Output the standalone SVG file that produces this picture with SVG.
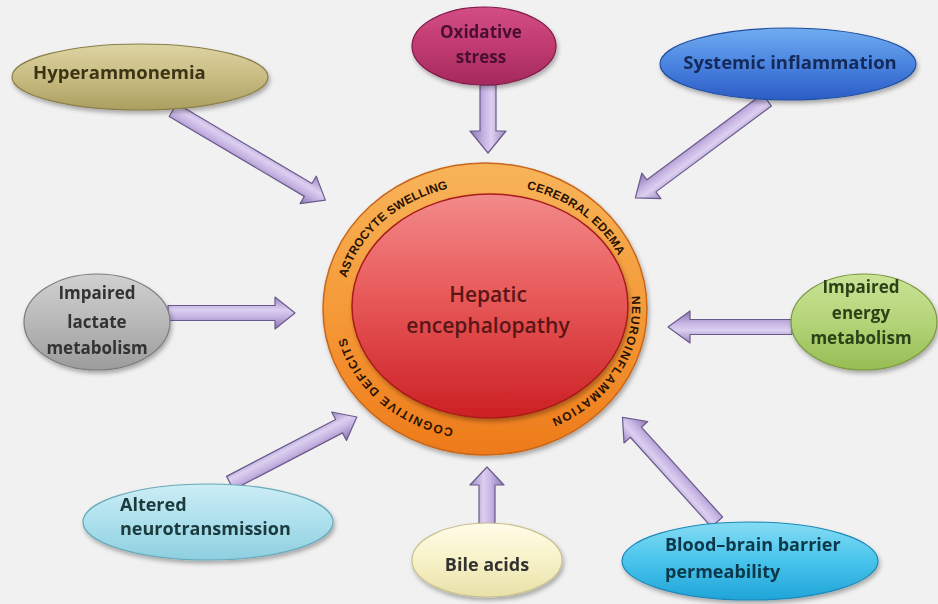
<svg xmlns="http://www.w3.org/2000/svg" width="938" height="604" viewBox="0 0 938 604">
<defs>
<style>
.lbl{font-family:"Open Sans","Liberation Sans",sans-serif;font-weight:700;font-size:18px;text-anchor:middle}
.ring{font-family:"Liberation Sans",Arial,sans-serif;font-weight:bold;font-size:12px;fill:#2a1200;text-anchor:middle;dominant-baseline:central}
.arrow{fill:url(#gArrow);stroke:#6a5a8c;stroke-width:1.2;stroke-linejoin:round}
.node{filter:url(#shadow)}
</style>
<filter id="shadow" x="-20%" y="-20%" width="140%" height="150%">
<feDropShadow dx="1.5" dy="3" stdDeviation="2" flood-color="#000" flood-opacity="0.3"/>
</filter>
<linearGradient id="gArrow" x1="0" y1="0" x2="0" y2="1">
<stop offset="0" stop-color="#9a86c0"/>
<stop offset="0.4" stop-color="#dccff0"/>
<stop offset="0.6" stop-color="#c8b6e4"/>
<stop offset="1" stop-color="#8a76b0"/>
</linearGradient>
<linearGradient id="gHyper" x1="0" y1="0" x2="0" y2="1"><stop offset="0" stop-color="#ddd4a4"/><stop offset="0.5" stop-color="#c9bc82"/><stop offset="1" stop-color="#ab9e60"/></linearGradient>
<linearGradient id="gOxi" x1="0" y1="0" x2="0" y2="1"><stop offset="0" stop-color="#d24e84"/><stop offset="0.5" stop-color="#c03a70"/><stop offset="1" stop-color="#a42a5c"/></linearGradient>
<linearGradient id="gSys" x1="0" y1="0" x2="0" y2="1"><stop offset="0" stop-color="#70acf0"/><stop offset="0.5" stop-color="#4a84e0"/><stop offset="1" stop-color="#2c5cc6"/></linearGradient>
<linearGradient id="gLac" x1="0" y1="0" x2="0" y2="1"><stop offset="0" stop-color="#d0d0d0"/><stop offset="0.5" stop-color="#b8b8b8"/><stop offset="1" stop-color="#9c9c9c"/></linearGradient>
<linearGradient id="gEne" x1="0" y1="0" x2="0" y2="1"><stop offset="0" stop-color="#cae396"/><stop offset="0.5" stop-color="#b4d478"/><stop offset="1" stop-color="#96bc54"/></linearGradient>
<linearGradient id="gAlt" x1="0" y1="0" x2="0" y2="1"><stop offset="0" stop-color="#ccedf5"/><stop offset="0.5" stop-color="#ace0ec"/><stop offset="1" stop-color="#8ecfe0"/></linearGradient>
<linearGradient id="gBile" x1="0" y1="0" x2="0" y2="1"><stop offset="0" stop-color="#fffce8"/><stop offset="0.5" stop-color="#f8f2c8"/><stop offset="1" stop-color="#e8e0a8"/></linearGradient>
<linearGradient id="gBbb" x1="0" y1="0" x2="0" y2="1"><stop offset="0" stop-color="#86dcf4"/><stop offset="0.5" stop-color="#48c4ec"/><stop offset="1" stop-color="#20a4d8"/></linearGradient>
<linearGradient id="gRing" x1="0" y1="0" x2="0" y2="1"><stop offset="0" stop-color="#f8b45a"/><stop offset="0.5" stop-color="#f59a38"/><stop offset="1" stop-color="#ee7a1a"/></linearGradient>
<linearGradient id="gCore" x1="0" y1="0" x2="0" y2="1"><stop offset="0" stop-color="#f28a8a"/><stop offset="0.45" stop-color="#e85a5a"/><stop offset="1" stop-color="#cc2024"/></linearGradient>
<path id="ringPath" d="M487,436 A149,128 0 0 1 487,180 A149,128 0 0 1 487,436"/>
</defs>
<rect width="938" height="604" fill="#f1f1f1"/>

<g id="connectors">
<path class="arrow" transform="translate(173,110) rotate(30.6)" d="M0,-7.5 H157 V-16 L177,0 L157,16 V7.5 H0 Z"/>
<path class="arrow" transform="translate(488,85) rotate(90)" d="M0,-8 H46 V-18 L68,0 L46,18 V8 H0 Z"/>
<path class="arrow" transform="translate(767,100) rotate(143.4)" d="M0,-7.5 H144 V-16 L164,0 L144,16 V7.5 H0 Z"/>
<path class="arrow" transform="translate(168,313) rotate(0)" d="M0,-7.5 H107 V-16 L127,0 L107,16 V7.5 H0 Z"/>
<path class="arrow" transform="translate(792,327) rotate(180)" d="M0,-7.5 H102 V-16 L124,0 L102,16 V7.5 H0 Z"/>
<path class="arrow" transform="translate(230,483) rotate(-27.5)" d="M0,-7.5 H123 V-16 L143,0 L123,16 V7.5 H0 Z"/>
<path class="arrow" transform="translate(487,525) rotate(-90)" d="M0,-8 H40 V-17 L58,0 L40,17 V8 H0 Z"/>
<path class="arrow" transform="translate(717,522) rotate(-132.1)" d="M0,-7.5 H121 V-16 L141,0 L121,16 V7.5 H0 Z"/>
</g>

<g id="center">
<ellipse cx="485" cy="309" rx="162" ry="146" fill="url(#gRing)" stroke="#c8661a" stroke-width="1.5" filter="url(#shadow)"/>
<ellipse cx="490" cy="306" rx="138" ry="112" fill="url(#gCore)" stroke="#a81a1a" stroke-width="1.5" filter="url(#shadow)"/>
<text class="lbl" style="font-size:21px;font-weight:600" fill="#5a1616"><tspan x="488" y="302">Hepatic</tspan><tspan x="488" y="333">encephalopathy</tspan></text>
<text class="ring"><textPath href="#ringPath" startOffset="12.7%" textLength="152" lengthAdjust="spacing">COGNITIVE DEFICITS</textPath></text>
<text class="ring"><textPath href="#ringPath" startOffset="37%" textLength="146" lengthAdjust="spacing">ASTROCYTE SWELLING</textPath></text>
<text class="ring"><textPath href="#ringPath" startOffset="61.6%" textLength="120" lengthAdjust="spacing">CEREBRAL EDEMA</textPath></text>
<text class="ring"><textPath href="#ringPath" startOffset="82.9%" textLength="162" lengthAdjust="spacing">NEUROINFLAMMATION</textPath></text>
</g>

<g id="hyperammonemia" class="node">
<ellipse cx="140" cy="77" rx="128" ry="33" fill="url(#gHyper)" stroke="#8a7e48" stroke-width="1.2"/>
<text class="lbl" x="33" y="79" style="text-anchor:start;font-size:18.5px" fill="#3a3418">Hyperammonemia</text>
</g>

<g id="oxidative" class="node">
<ellipse cx="484" cy="46" rx="72" ry="39" fill="url(#gOxi)" stroke="#801848" stroke-width="1.2"/>
<text class="lbl" style="font-size:17px" fill="#4a1030"><tspan x="481" y="38">Oxidative</tspan><tspan x="481" y="63">stress</tspan></text>
</g>

<g id="systemic" class="node">
<ellipse cx="788" cy="64" rx="128" ry="36" fill="url(#gSys)" stroke="#2050a0" stroke-width="1.2"/>
<text class="lbl" x="790" y="69" style="font-size:18.5px" fill="#142a5a">Systemic inflammation</text>
</g>

<g id="lactate" class="node">
<ellipse cx="97" cy="322" rx="73" ry="48" fill="url(#gLac)" stroke="#7c7c7c" stroke-width="1.2"/>
<text class="lbl" style="font-size:17px" fill="#333"><tspan x="97" y="299">Impaired</tspan><tspan x="97" y="328">lactate</tspan><tspan x="97" y="354">metabolism</tspan></text>
</g>

<g id="energy" class="node">
<ellipse cx="864" cy="322" rx="73" ry="48" fill="url(#gEne)" stroke="#78983e" stroke-width="1.2"/>
<text class="lbl" style="font-size:17px" fill="#2a4218"><tspan x="861" y="293">Impaired</tspan><tspan x="861" y="319">energy</tspan><tspan x="861" y="344">metabolism</tspan></text>
</g>

<g id="altered" class="node">
<ellipse cx="208" cy="522" rx="125" ry="38" fill="url(#gAlt)" stroke="#6aaabb" stroke-width="1.2"/>
<text class="lbl" style="text-anchor:start" fill="#1a3a3e"><tspan x="120" y="511">Altered</tspan><tspan x="120" y="535">neurotransmission</tspan></text>
</g>

<g id="bile" class="node">
<ellipse cx="487" cy="560" rx="75" ry="37" fill="url(#gBile)" stroke="#c8c090" stroke-width="1.2"/>
<text class="lbl" x="487" y="571" fill="#333">Bile acids</text>
</g>

<g id="bbb" class="node">
<ellipse cx="750" cy="561" rx="128" ry="39" fill="url(#gBbb)" stroke="#1a88b8" stroke-width="1.2"/>
<text class="lbl" style="text-anchor:start" fill="#0a3848"><tspan x="665" y="551">Blood–brain barrier</tspan><tspan x="665" y="578">permeability</tspan></text>
</g>
</svg>
